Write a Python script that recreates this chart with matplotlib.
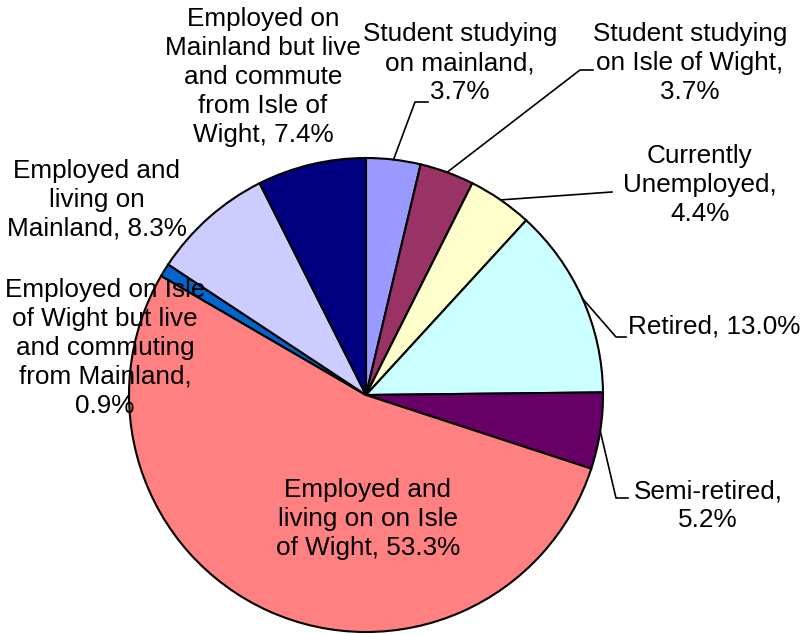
import matplotlib.pyplot as plt
import numpy as np

plt.rcParams['font.family'] = ['Liberation Sans', 'DejaVu Sans']

# data, clockwise from 12 o'clock
labels = ['Student studying\non mainland,\n3.7%',
          'Student studying\non Isle of Wight,\n3.7%',
          'Currently\nUnemployed,\n4.4%',
          'Retired, 13.0%',
          'Semi-retired,\n5.2%',
          'Employed and\nliving on on Isle\nof Wight, 53.3%',
          'Employed on Isle\nof Wight but live\nand commuting\nfrom Mainland,\n0.9%',
          'Employed and\nliving on\nMainland, 8.3%',
          'Employed on\nMainland but live\nand commute\nfrom Isle of\nWight, 7.4%']
values = [3.7, 3.7, 4.4, 13.0, 5.2, 53.3, 0.9, 8.3, 7.4]
colors = ['#9999FF', '#993366', '#FFFFCC', '#CCFFFF', '#660066',
          '#FF8080', '#0066CC', '#CCCCFF', '#000080']

W, H = 804, 634
cx, cy, R = 366, 395, 237   # pixel coords (y from top)

# label centres (pixel coords) and leader elbows (None = no leader)
label_pos = [(460, 63), (690, 63), (700, 185), (714, 327), (708, 506),
             (368, 519), (105, 348), (97, 200), (263, 77)]
elbows = [[(415, 102), (428, 102)],
          [(580, 70), (593, 70)],
          [(612, 192)],
          [(616, 337), (626, 337)],
          [(616, 498), (628, 498)],
          None, None, None, None]

fig = plt.figure(figsize=(W / 100, H / 100), dpi=100)
ax = fig.add_axes([0, 0, 1, 1])

ax.pie(values, colors=colors, startangle=90, counterclock=False,
       center=(cx, H - cy), radius=R,
       wedgeprops=dict(edgecolor='black', linewidth=1.5))
ax.set_xlim(0, W)
ax.set_ylim(0, H)
ax.set_aspect('equal')
ax.axis('off')

total = sum(values)
cum = np.cumsum([0] + values)
for i, lab in enumerate(labels):
    mid = 90 - 360 * (cum[i] + values[i] / 2) / total
    a = np.deg2rad(mid)
    if elbows[i] is not None:
        pts = [(cx + R * np.cos(a), H - cy + R * np.sin(a))]
        pts += [(x, H - y) for x, y in elbows[i]]
        xs, ys = zip(*pts)
        ax.plot(xs, ys, color='black', lw=1.2)
    x, y = label_pos[i]
    ax.text(x, H - y, lab, ha='center', va='center', fontsize=18.8,
            multialignment='center', linespacing=1.26)

fig.savefig('out.png', dpi=100)
